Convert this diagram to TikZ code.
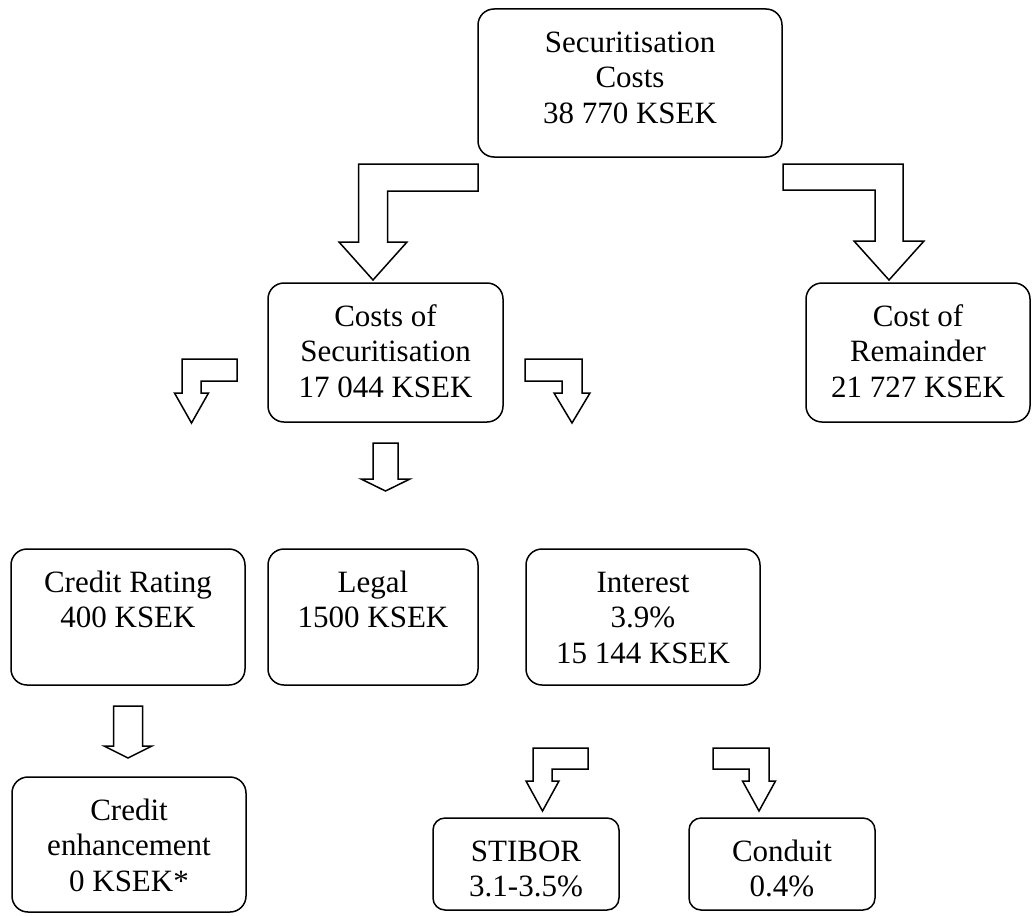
\documentclass[tikz,border=0pt]{standalone}
\usepackage{fontspec}
\setmainfont{Liberation Serif}
\tikzset{
  boxshape/.style={draw, line width=1.5pt, rounded corners=16pt, inner sep=0pt},
  smallbox/.style={boxshape, rounded corners=12pt},
  boxtext/.style={inner sep=0pt, align=center, font=\fontsize{31}{35.5}\selectfont, anchor=north},
  blockarrow/.style={draw, line width=1.5pt, fill=white, line join=miter},
}
\newcommand\mybox[7]{%
  \node[#7, minimum width={#4pt-#2pt}, minimum height={#5pt-#3pt}] (#1) at ({(#2+#4)/2},{(#3+#5)/2}) {};
  \node[boxtext] (#1-t) at ({(#2+#4)/2},{#3+18}) {\strut #6};
}
\begin{document}
\begin{tikzpicture}[x=1pt,y=-1pt]
\useasboundingbox (0,0) rectangle (1032,915);
\mybox{top}{478}{9}{782}{157}{Securitisation\\Costs\\38 770 KSEK}{boxshape}
\mybox{costs}{268}{283}{503}{422}{Costs of\\Securitisation\\17 044 KSEK}{boxshape}
\mybox{rem}{806}{283}{1030}{422}{Cost of\\Remainder\\21 727 KSEK}{boxshape}
\mybox{rating}{11}{549}{245}{685}{Credit Rating\\400 KSEK}{boxshape}
\mybox{legal}{268}{549}{478}{685}{Legal\\1500 KSEK}{boxshape}
\mybox{interest}{526}{549}{760}{685}{Interest\\3.9\%\\15 144 KSEK}{boxshape}
\mybox{enh}{12}{777}{246}{912}{Credit\\enhancement\\0 KSEK*}{boxshape}
\mybox{stibor}{433}{818}{619}{910}{STIBOR\\3.1-3.5\%}{smallbox}
\mybox{conduit}{689}{818}{875}{910}{Conduit\\0.4\%}{smallbox}
% block arrows
\draw[blockarrow] (358.5,164) -- (478,164) -- (478,191) -- (387.5,191) -- (387.5,242) -- (407,242) -- (373,280) -- (339,242) -- (358.5,242) -- cycle;
\draw[blockarrow] (783,164) -- (903,164) -- (903,241) -- (924,241) -- (889,280) -- (854,241) -- (875,241) -- (875,190) -- (783,190) -- cycle;
\draw[blockarrow] (182,359) -- (237,359) -- (237,381) -- (201,381) -- (201,393) -- (208.5,393) -- (191.5,423) -- (174.5,393) -- (182,393) -- cycle;
\draw[blockarrow] (525,359) -- (582,359) -- (582,393) -- (590,393) -- (572,423) -- (554,393) -- (562,393) -- (562,381) -- (525,381) -- cycle;
\draw[blockarrow] (373,443) -- (398,443) -- (398,479) -- (410,479) -- (385.5,491) -- (361,479) -- (373,479) -- cycle;
\draw[blockarrow] (113.5,706) -- (142.5,706) -- (142.5,746) -- (152,746) -- (128,758) -- (104,746) -- (113.5,746) -- cycle;
\draw[blockarrow] (533,748) -- (588,748) -- (588,769) -- (552,769) -- (552,781) -- (559,781) -- (542.5,811) -- (526,781) -- (533,781) -- cycle;
\draw[blockarrow] (713,748) -- (769,748) -- (769,781) -- (775.5,781) -- (759,811) -- (742.5,781) -- (749,781) -- (749,769) -- (713,769) -- cycle;
\end{tikzpicture}
\end{document}
